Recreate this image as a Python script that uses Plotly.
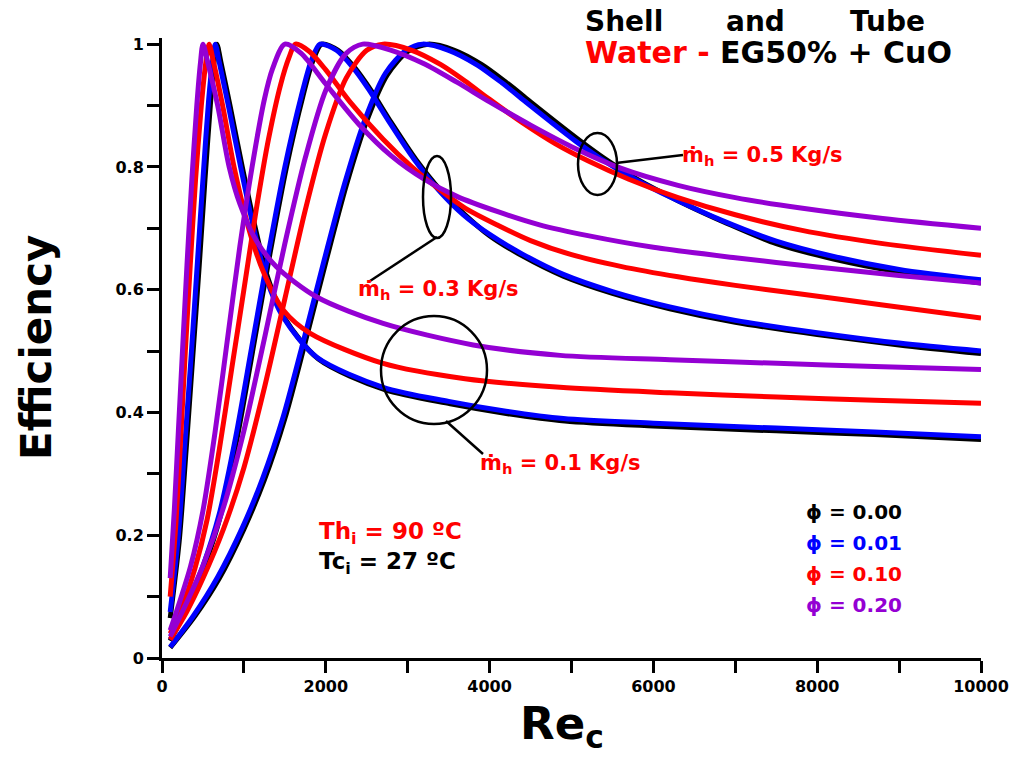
import plotly.graph_objects as go

# ---------------- data ----------------
# m_h = 0.1 kg/s
re_m01_p000 = [100, 210, 295, 375, 455, 525, 590, 635, 670, 720, 830, 980, 1140, 1290, 1500, 1910, 2720, 3520, 4220, 4920, 6000, 7500, 8700, 10000]
ef_m01_p000 = [0.065, 0.19, 0.34, 0.49, 0.64, 0.78, 0.90, 0.97, 1.0, 0.97, 0.90, 0.80, 0.70, 0.62, 0.553, 0.487, 0.437, 0.414, 0.398, 0.386, 0.378, 0.370, 0.364, 0.356]
re_m01_p001 = [100, 200, 280, 360, 435, 505, 570, 615, 650, 700, 810, 960, 1120, 1270, 1480, 1890, 2700, 3500, 4200, 4900, 6000, 7500, 8700, 10000]
ef_m01_p001 = [0.075, 0.20, 0.35, 0.50, 0.65, 0.79, 0.91, 0.97, 1.0, 0.97, 0.90, 0.80, 0.70, 0.62, 0.555, 0.49, 0.441, 0.418, 0.402, 0.39, 0.3825, 0.3745, 0.368, 0.3605]
re_m01_p010 = [100, 170, 225, 285, 345, 410, 480, 535, 575, 630, 740, 880, 1080, 1250, 1480, 1810, 2700, 3700, 4860, 6200, 7510, 8700, 10000]
ef_m01_p010 = [0.10, 0.22, 0.35, 0.50, 0.64, 0.78, 0.90, 0.97, 1.0, 0.97, 0.90, 0.80, 0.69, 0.625, 0.567, 0.529, 0.48, 0.455, 0.441, 0.432, 0.425, 0.42, 0.415]
re_m01_p020 = [100, 150, 200, 250, 305, 365, 425, 470, 500, 560, 680, 820, 950, 1150, 1400, 1890, 2700, 3800, 4860, 6200, 7510, 8700, 10000]
ef_m01_p020 = [0.13, 0.24, 0.37, 0.50, 0.64, 0.78, 0.90, 0.97, 1.0, 0.97, 0.90, 0.80, 0.74, 0.68, 0.637, 0.588, 0.545, 0.51, 0.493, 0.486, 0.48, 0.475, 0.47]

# m_h = 0.3 kg/s
re_m03_p000 = [100, 320, 520, 720, 920, 1120, 1320, 1520, 1720, 1840, 1950, 2150, 2350, 2550, 2800, 3100, 3400, 3700, 4000, 4400, 4900, 5500, 6200, 7000, 8000, 9000, 10000]
ef_m03_p000 = [0.028, 0.085, 0.15, 0.235, 0.36, 0.51, 0.66, 0.80, 0.915, 0.972, 1.0, 0.99, 0.962, 0.925, 0.872, 0.812, 0.762, 0.722, 0.688, 0.655, 0.622, 0.594, 0.569, 0.547, 0.527, 0.51, 0.496]
re_m03_p001 = [100, 300, 500, 700, 900, 1100, 1300, 1500, 1700, 1820, 1930, 2130, 2330, 2530, 2780, 3080, 3380, 3680, 4000, 4400, 4900, 5500, 6200, 7000, 8000, 9000, 10000]
ef_m03_p001 = [0.03, 0.085, 0.15, 0.235, 0.36, 0.51, 0.66, 0.80, 0.915, 0.972, 1.0, 0.99, 0.962, 0.925, 0.872, 0.812, 0.762, 0.722, 0.69, 0.658, 0.625, 0.597, 0.572, 0.55, 0.53, 0.513, 0.50]
re_m03_p010 = [100, 250, 400, 550, 700, 850, 1000, 1150, 1300, 1450, 1550, 1630, 1800, 2000, 2300, 2700, 3050, 3400, 3700, 4100, 4500, 5000, 5600, 6300, 7000, 7800, 8800, 10000]
ef_m03_p010 = [0.04, 0.085, 0.145, 0.225, 0.34, 0.47, 0.60, 0.73, 0.845, 0.935, 0.978, 1.0, 0.988, 0.958, 0.905, 0.845, 0.80, 0.762, 0.733, 0.705, 0.68, 0.657, 0.638, 0.621, 0.607, 0.593, 0.575, 0.554]
re_m03_p020 = [100, 200, 350, 500, 650, 800, 950, 1100, 1250, 1350, 1500, 1700, 2000, 2400, 2800, 3200, 3600, 4100, 4600, 5200, 6000, 7000, 8000, 9000, 10000]
ef_m03_p020 = [0.045, 0.085, 0.15, 0.24, 0.37, 0.52, 0.67, 0.80, 0.91, 0.96, 1.0, 0.985, 0.935, 0.87, 0.818, 0.78, 0.752, 0.727, 0.706, 0.688, 0.669, 0.652, 0.637, 0.623, 0.611]

# m_h = 0.5 kg/s
re_m05_p000 = [100, 400, 700, 1000, 1250, 1500, 1750, 2000, 2250, 2500, 2750, 3000, 3250, 3570, 3900, 4200, 4500, 4800, 5100, 5400, 5800, 6300, 6900, 7500, 8200, 9000, 10000]
ef_m05_p000 = [0.017, 0.068, 0.13, 0.21, 0.29, 0.39, 0.515, 0.645, 0.77, 0.875, 0.95, 0.988, 1.0, 0.99, 0.967, 0.938, 0.906, 0.874, 0.843, 0.814, 0.78, 0.745, 0.708, 0.675, 0.65, 0.629, 0.611]
re_m05_p001 = [100, 380, 680, 980, 1230, 1480, 1730, 1980, 2230, 2480, 2730, 2980, 3180, 3500, 3850, 4150, 4450, 4750, 5050, 5350, 5750, 6250, 6850, 7500, 8200, 9000, 10000]
ef_m05_p001 = [0.018, 0.068, 0.132, 0.212, 0.293, 0.393, 0.518, 0.648, 0.773, 0.878, 0.953, 0.99, 1.0, 0.99, 0.966, 0.937, 0.905, 0.873, 0.842, 0.814, 0.782, 0.748, 0.712, 0.679, 0.654, 0.633, 0.616]
re_m05_p010 = [100, 300, 500, 750, 1000, 1250, 1500, 1750, 2000, 2250, 2500, 2700, 3050, 3400, 3700, 4000, 4400, 4800, 5200, 5700, 6300, 7000, 7800, 8800, 10000]
ef_m05_p010 = [0.03, 0.075, 0.13, 0.21, 0.31, 0.44, 0.585, 0.73, 0.855, 0.945, 0.99, 1.0, 0.99, 0.967, 0.94, 0.91, 0.872, 0.838, 0.81, 0.78, 0.75, 0.722, 0.697, 0.675, 0.656]
re_m05_p020 = [100, 300, 500, 750, 1000, 1250, 1500, 1750, 2000, 2250, 2450, 2800, 3200, 3600, 4000, 4500, 5000, 5600, 6300, 7000, 7800, 8800, 10000]
ef_m05_p020 = [0.035, 0.09, 0.15, 0.245, 0.37, 0.52, 0.675, 0.815, 0.925, 0.985, 1.0, 0.99, 0.968, 0.938, 0.906, 0.868, 0.833, 0.798, 0.77, 0.75, 0.733, 0.716, 0.70]

x_ticks = [0, 2000, 4000, 6000, 8000, 10000]
y_ticks = [0, 0.2, 0.4, 0.6, 0.8, 1.0]
phi_labels = ["0.00", "0.01", "0.10", "0.20"]

BLACK, BLUE, RED, PURPLE = "#000000", "#0000FF", "#FF0000", "#9400D3"
FONT = "DejaVu Sans"

# ---------------- figure ----------------
W, H = 1013, 759
ML, MR, MT, MB = 162, 32, 38, 101
PW, PH = W - ML - MR, H - MT - MB


def px(xp, yp):
    """pixel position -> paper coordinates"""
    return (xp - ML) / PW, (H - MB - yp) / PH


fig = go.Figure()

curves = [
    (re_m01_p000, ef_m01_p000, BLACK), (re_m03_p000, ef_m03_p000, BLACK), (re_m05_p000, ef_m05_p000, BLACK),
    (re_m01_p001, ef_m01_p001, BLUE), (re_m03_p001, ef_m03_p001, BLUE), (re_m05_p001, ef_m05_p001, BLUE),
    (re_m01_p010, ef_m01_p010, RED), (re_m03_p010, ef_m03_p010, RED), (re_m05_p010, ef_m05_p010, RED),
    (re_m01_p020, ef_m01_p020, PURPLE), (re_m03_p020, ef_m03_p020, PURPLE), (re_m05_p020, ef_m05_p020, PURPLE),
]
for xs, ys, col in curves:
    fig.add_trace(go.Scatter(x=xs, y=ys, mode="lines",
                             line=dict(color=col, width=5, shape="spline", smoothing=0.8),
                             showlegend=False, hoverinfo="skip"))

axis_common = dict(showline=True, linewidth=3, linecolor="black", showgrid=False, zeroline=False,
                   automargin=False,
                   ticks="outside", ticklen=12, tickwidth=3, tickcolor="black",
                   tickfont=dict(family=FONT, size=16, color="black", weight="bold"))
fig.update_xaxes(range=[0, 10000], tickvals=x_ticks, ticktext=[str(v) for v in x_ticks],
                 minor=dict(dtick=1000, tick0=0, ticks="outside", ticklen=12, tickwidth=3,
                            tickcolor="black", showgrid=False), **axis_common)
fig.update_yaxes(range=[0, 1.01], tickvals=y_ticks, ticktext=["0", "0.2", "0.4", "0.6", "0.8", "1"],
                 minor=dict(dtick=0.1, tick0=0, ticks="outside", ticklen=12, tickwidth=3,
                            tickcolor="black", showgrid=False), **axis_common)

ann = []


def text(xp, yp, t, size, color="black", xanchor="left", angle=0):
    x, y = px(xp, yp)
    ann.append(dict(x=x, y=y, xref="paper", yref="paper", text=t, showarrow=False,
                    xanchor=xanchor, yanchor="middle", textangle=angle,
                    font=dict(family=FONT, size=size, color=color, weight="bold")))


# axis titles
text(36, 348, "Efficiency", 42, xanchor="center", angle=-90)
text(562, 726, "Re<sub>c</sub>", 45, xanchor="center")

# header
text(624, 21, "Shell", 28, xanchor="center")
text(755, 21, "and", 28, xanchor="center")
text(887, 21, "Tube", 28, xanchor="center")
text(768, 52, "<span style='color:#FF0000'>Water -</span> EG50% + CuO", 30, xanchor="center")

# flow-rate labels
text(680, 156, "ṁ<sub>h</sub> = 0.5 Kg/s", 21, RED)
text(356, 290, "ṁ<sub>h</sub> = 0.3 Kg/s", 21, RED)
text(478, 464, "ṁ<sub>h</sub> = 0.1 Kg/s", 21, RED)

# inlet temperatures
text(317, 533, "Th<sub>i</sub> = 90 ºC", 23, RED)
text(317, 563, "Tc<sub>i</sub> = 27 ºC", 23, BLACK)

# phi legend
for i, (lab, col) in enumerate(zip(phi_labels, [BLACK, BLUE, RED, PURPLE])):
    text(804, 512 + i * 31, "ϕ = " + lab, 20, col)

fig.update_layout(annotations=ann)


# ellipses and leader lines (pixel -> paper)
def ellipse(x0, y0, x1, y1):
    a, b = px(x0, y1)
    c, d = px(x1, y0)
    fig.add_shape(type="circle", xref="paper", yref="paper", x0=a, y0=b, x1=c, y1=d,
                  line=dict(color="black", width=2.5))


def seg(x0, y0, x1, y1):
    a, b = px(x0, y0)
    c, d = px(x1, y1)
    fig.add_shape(type="line", xref="paper", yref="paper", x0=a, y0=b, x1=c, y1=d,
                  line=dict(color="black", width=2.5))


ellipse(578, 133, 617, 195)
seg(616, 163, 683, 155)
ellipse(423, 156, 451, 238)
seg(437, 237, 370, 281)
ellipse(381, 316, 487, 424)
seg(446, 421, 483, 454)

fig.update_layout(width=W, height=H, autosize=False,
                  margin=dict(l=ML, r=MR, t=MT, b=MB),
                  plot_bgcolor="white", paper_bgcolor="white")

fig.write_html("out.html")
